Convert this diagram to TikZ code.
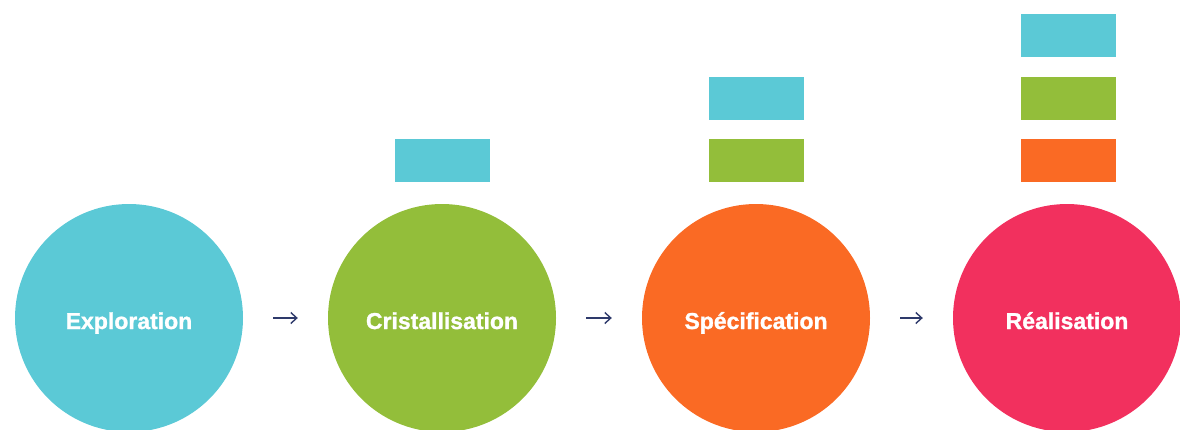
\documentclass[tikz,border=0pt]{standalone}
\usepackage{fontspec}
\setmainfont{Liberation Sans}
\newfontfamily\heavyfont[BoldFeatures={FakeBold=1.2}]{Liberation Sans}
\usetikzlibrary{arrows.meta}
\definecolor{ccyan}{HTML}{5BC9D6}
\definecolor{cgreen}{HTML}{93BE3A}
\definecolor{corange}{HTML}{FA6A24}
\definecolor{cred}{HTML}{F2305E}
\definecolor{cnavy}{HTML}{2E3A6B}
\tikzset{
  phase/.style={circle, minimum size=228pt, inner sep=0pt, text=white,
    text height=26pt, text depth=4pt,
    font=\heavyfont\bfseries\fontsize{23}{26}\selectfont},
  bar/.style={rectangle, minimum width=95pt, minimum height=43pt, inner sep=0pt},
  arr/.style={draw=cnavy, line width=1.4pt, -{Straight Barb[length=6pt,width=11pt]}, shorten <=30pt, shorten >=30pt}
}
\begin{document}
\begin{tikzpicture}[x=1pt,y=-1pt]
\useasboundingbox (0,0) rectangle (1180,429);
\begin{scope}
\clip (0,0) rectangle (1180,429);
\node[phase, fill=ccyan] (p1) at (129,318) {Exploration};
\node[phase, fill=cgreen] (p2) at (442,318) {Cristallisation};
\node[phase, fill=corange] (p3) at (756,318) {Spécification};
\node[phase, fill=cred] (p4) at (1067,318) {Réalisation};
\end{scope}
\node[bar, fill=ccyan] (b21) at (442,160.5) {};
\node[bar, fill=ccyan] (b31) at (756,98) {};
\node[bar, fill=cgreen] (b32) at (756,160.5) {};
\node[bar, fill=ccyan] (b41) at (1068,35.5) {};
\node[bar, fill=cgreen] (b42) at (1068,98) {};
\node[bar, fill=corange] (b43) at (1068,160.5) {};
\draw[arr] (p1.east) -- (p2.west);
\draw[arr] (p2.east) -- (p3.west);
\draw[arr] (p3.east) -- (p4.west);
\end{tikzpicture}
\end{document}
